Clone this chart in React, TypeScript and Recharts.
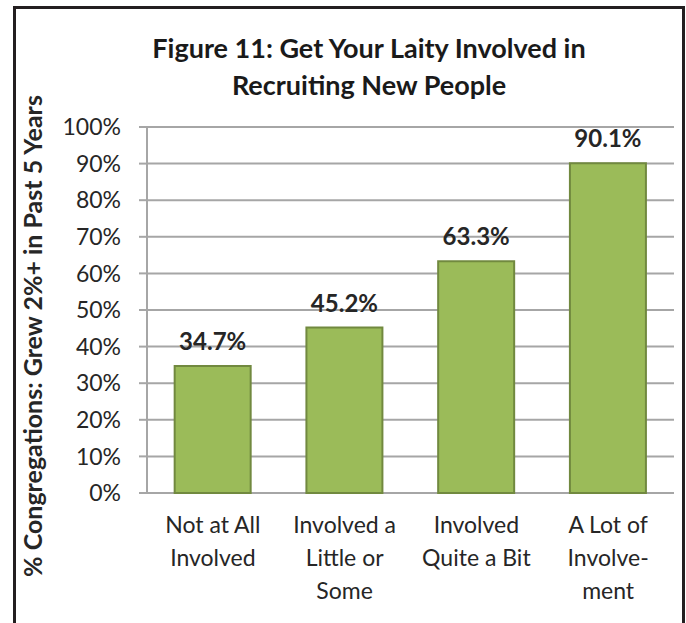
import { BarChart, Bar, XAxis, YAxis, CartesianGrid, LabelList, Label } from "recharts";

const categories = [
  "Not at All\nInvolved",
  "Involved a\nLittle or\nSome",
  "Involved\nQuite a Bit",
  "A Lot of\nInvolve-\nment",
];
const values = [34.7, 45.2, 63.3, 90.1];
const yTicks = [0, 10, 20, 30, 40, 50, 60, 70, 80, 90, 100];
const boundaryTicks = [0, 1, 2, 3, 4];

const data = categories.map((name, i) => ({ name, value: values[i] }));

const FONT = "Lato, 'Open Sans', sans-serif";
const TEXT = "#262626";
const GRID = "#A6A6A6";

function CategoryTick(props: any) {
  const { x, y, payload } = props;
  const lines = String(payload.value).split("\n");
  return (
    <text x={x} y={y} textAnchor="middle" fill={TEXT} fontSize={23} fontFamily={FONT}>
      {lines.map((line, i) => (
        <tspan key={i} x={x} dy={i === 0 ? 40 : 33}>
          {line}
        </tspan>
      ))}
    </text>
  );
}

export default function App() {
  return (
    <div
      style={{
        position: "absolute",
        left: 0,
        top: 0,
        width: 686,
        height: 623,
        overflow: "hidden",
        background: "#fff",
        fontFamily: FONT,
      }}
    >
      <div
        style={{
          position: "absolute",
          left: 13,
          top: 6,
          width: 666,
          height: 700,
          border: "3px solid #231F20",
          borderBottom: "none",
        }}
      />
      <div
        style={{
          position: "absolute",
          left: 0,
          top: 29,
          width: 738,
          textAlign: "center",
          fontSize: 27,
          fontWeight: 700,
          lineHeight: "37px",
          color: "#1a1a1a",
        }}
      >
        Figure 11: Get Your Laity Involved in
        <br />
        Recruiting New People
      </div>
      <div style={{ position: "absolute", left: 0, top: 0 }}>
        <BarChart
          width={686}
          height={623}
          data={data}
          margin={{ top: 127, right: 12, bottom: 30, left: 0 }}
          barCategoryGap="21%"
        >
          <CartesianGrid vertical={false} stroke={GRID} strokeWidth={2} />
          <XAxis
            xAxisId="bounds"
            type="number"
            domain={[0, 4]}
            ticks={boundaryTicks}
            height={0}
            tickSize={8}
            tickFormatter={() => ""}
            stroke={GRID}
            strokeWidth={2}
            allowDataOverflow
          />
          <XAxis
            dataKey="name"
            height={100}
            axisLine={false}
            tickLine={false}
            tickSize={0}
            tickMargin={0}
            interval={0}
            tick={<CategoryTick />}
          />
          <YAxis
            width={147}
            domain={[0, 100]}
            ticks={yTicks}
            interval={0}
            tickFormatter={(v: number) => `${v}%`}
            tickSize={8}
            tickMargin={18}
            stroke={GRID}
            strokeWidth={2}
            tick={{ fill: TEXT, fontSize: 23, fontFamily: FONT }}
          >
            <Label
              value="% Congregations: Grew 2%+ in Past 5 Years"
              angle={-90}
              position="center"
              dx={-40}
              dy={26}
              style={{ fill: TEXT, fontSize: 25, fontWeight: 700, fontFamily: FONT, textAnchor: "middle" }}
            />
          </YAxis>
          <Bar dataKey="value" fill="#9BBB59" stroke="#71893F" strokeWidth={2} isAnimationActive={false}>
            <LabelList
              dataKey="value"
              position="top"
              offset={16}
              formatter={(v: any) => `${Number(v).toFixed(1)}%`}
              style={{ fill: TEXT, fontSize: 24, fontWeight: 700, fontFamily: FONT }}
            />
          </Bar>
        </BarChart>
      </div>
    </div>
  );
}
